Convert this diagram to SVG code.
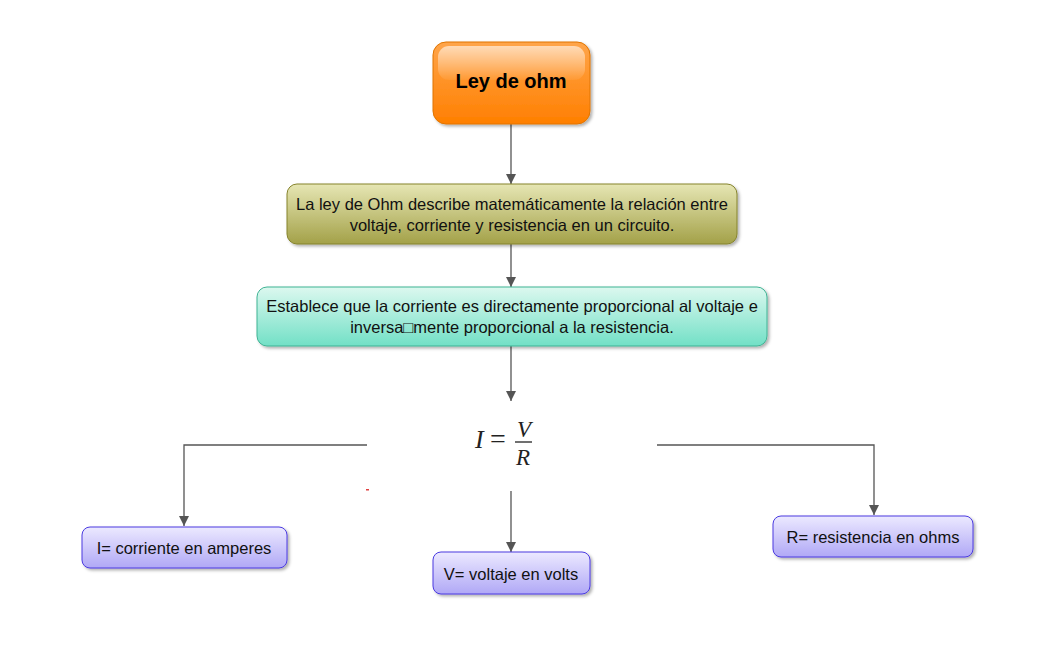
<svg xmlns="http://www.w3.org/2000/svg" width="1047" height="665" viewBox="0 0 1047 665">
<defs>
<linearGradient id="gOrange" x1="0" y1="0" x2="0" y2="1">
<stop offset="0" stop-color="#ffa54a"/><stop offset="1" stop-color="#ff7f00"/>
</linearGradient>
<linearGradient id="gGloss" x1="0" y1="0" x2="0" y2="1">
<stop offset="0" stop-color="#ffffff" stop-opacity="0.6"/><stop offset="1" stop-color="#ffffff" stop-opacity="0.05"/>
</linearGradient>
<linearGradient id="gOlive" x1="0" y1="0" x2="0" y2="1">
<stop offset="0" stop-color="#e6e6b4"/><stop offset="1" stop-color="#a3a148"/>
</linearGradient>
<linearGradient id="gTeal" x1="0" y1="0" x2="0" y2="1">
<stop offset="0" stop-color="#dcf8ef"/><stop offset="1" stop-color="#72e0c6"/>
</linearGradient>
<linearGradient id="gPurple" x1="0" y1="0" x2="0" y2="1">
<stop offset="0" stop-color="#ece9ff"/><stop offset="1" stop-color="#b0a8f6"/>
</linearGradient>
<filter id="sh" x="-10%" y="-20%" width="130%" height="160%">
<feDropShadow dx="2" dy="2" stdDeviation="1.5" flood-color="#000" flood-opacity="0.3"/>
</filter>
<marker id="arr" viewBox="0 0 10 10" refX="10" refY="5" markerWidth="10" markerHeight="10" markerUnits="userSpaceOnUse" orient="auto">
<path d="M0,0 L10,5 L0,10 z" fill="#555"/>
</marker>
</defs>
<style>
.t{font-family:"Liberation Sans",Arial,sans-serif;font-size:16.5px;fill:#111;text-anchor:middle}
.c{fill:none;stroke:#555;stroke-width:1.3}
.m{font-family:"Liberation Serif","Times New Roman",serif;font-style:italic;fill:#222}
</style>
<rect width="1047" height="665" fill="#fff"/>
<g id="connectors">
<line class="c" x1="511" y1="124" x2="511" y2="184" marker-end="url(#arr)"/>
<line class="c" x1="511" y1="244" x2="511" y2="287" marker-end="url(#arr)"/>
<line class="c" x1="511" y1="346" x2="511" y2="401" marker-end="url(#arr)"/>
<polyline class="c" points="367,445 184,445 184,526" marker-end="url(#arr)"/>
<polyline class="c" points="657,445 874,445 874,515" marker-end="url(#arr)"/>
<line class="c" x1="511" y1="491" x2="511" y2="552" marker-end="url(#arr)"/>
</g>
<g id="ley">
<rect x="433" y="42" width="157" height="82" rx="13" fill="url(#gOrange)" stroke="#e07400" stroke-width="1" filter="url(#sh)"/>
<rect x="438" y="46" width="147" height="34" rx="11" fill="url(#gGloss)"/>
<text x="511" y="88" class="t" style="font-size:20px;font-weight:bold;fill:#000">Ley de ohm</text>
</g>
<g id="describe">
<rect x="287" y="184" width="450" height="60" rx="10" fill="url(#gOlive)" stroke="#85832c" stroke-width="1" filter="url(#sh)"/>
<text x="512" y="210" class="t">La ley de Ohm describe matemáticamente la relación entre</text>
<text x="512" y="231" class="t">voltaje, corriente y resistencia en un circuito.</text>
</g>
<g id="establece">
<rect x="257" y="287" width="510" height="59" rx="10" fill="url(#gTeal)" stroke="#3fb394" stroke-width="1" filter="url(#sh)"/>
<text x="512" y="312" class="t">Establece que la corriente es directamente proporcional al voltaje e</text>
<text x="512" y="333" class="t">inversa□mente proporcional a la resistencia.</text>
</g>
<g id="formula">
<text x="475" y="448" class="m" font-size="26">I</text>
<text x="498" y="448" class="m" font-size="28" style="font-style:normal" text-anchor="middle">=</text>
<text x="524" y="437" class="m" font-size="23" text-anchor="middle">V</text>
<line x1="515" y1="442" x2="532" y2="442" stroke="#333" stroke-width="1.4"/>
<text x="523" y="465" class="m" font-size="23" text-anchor="middle">R</text>
<rect x="366" y="489" width="3" height="1.5" fill="#e04040"/>
</g>
<g id="corriente">
<rect x="82" y="527" width="205" height="41" rx="8" fill="url(#gPurple)" stroke="#4a3ae0" stroke-width="1" filter="url(#sh)"/>
<text x="184" y="554" class="t">I= corriente en amperes</text>
</g>
<g id="voltaje">
<rect x="433" y="552" width="157" height="42" rx="8" fill="url(#gPurple)" stroke="#4a3ae0" stroke-width="1" filter="url(#sh)"/>
<text x="511" y="580" class="t">V= voltaje en volts</text>
</g>
<g id="resistencia">
<rect x="773" y="516" width="200" height="41" rx="8" fill="url(#gPurple)" stroke="#4a3ae0" stroke-width="1" filter="url(#sh)"/>
<text x="873" y="543" class="t">R= resistencia en ohms</text>
</g>
</svg>
